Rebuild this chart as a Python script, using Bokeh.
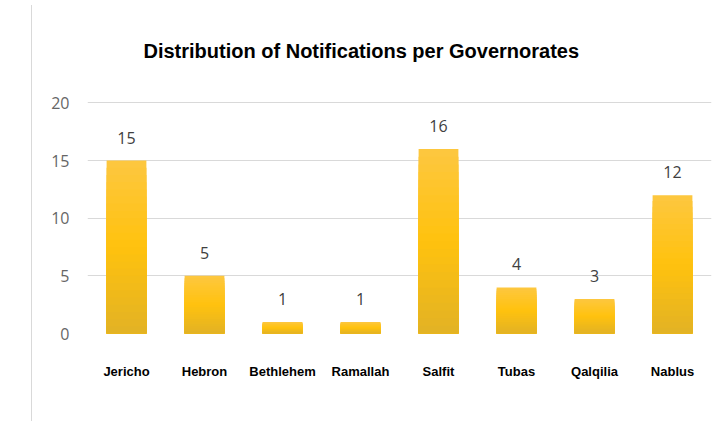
from bokeh.plotting import figure
from bokeh.models import ColumnDataSource, Div, FixedTicker
from bokeh.layouts import row
from bokeh.embed import file_html
from bokeh.resources import INLINE
from bokeh.core.properties import value

categories = ["Jericho", "Hebron", "Bethlehem", "Ramallah", "Salfit", "Tubas", "Qalqilia", "Nablus"]
counts = [15, 5, 1, 1, 16, 4, 3, 12]
y_ticks = [0, 5, 10, 15, 20]
title_text = "Distribution of Notifications per Governorates"

p = figure(x_range=categories, y_range=(0, 20.3), width=679, height=405,
           output_backend="svg", toolbar_location=None,
           min_border_left=50, min_border_right=5, min_border_top=99, min_border_bottom=72)
p.outline_line_color = None
p.background_fill_color = "white"

p.title.text = title_text
p.title.align = "left"
p.title.offset = 56
p.title.standoff = 75
p.title.text_font = "Liberation Sans"
p.title.text_font_style = "bold"
p.title.text_font_size = "20px"
p.title.text_color = "#000000"

# gradient bars: overlapping layers from top (light) to bottom (dark)
def lerp(c1, c2, t):
    return "#%02x%02x%02x" % tuple(int(round(a + (b - a) * t)) for a, b in zip(c1, c2))

bottom_c = (0xE2, 0xB2, 0x25)
mid_c = (0xFF, 0xC2, 0x0E)
top_c = (0xFD, 0xC7, 0x40)
N = 24
for k in range(N):
    i = N - 1 - k
    t = (i + 0.5) / N
    if t < 0.5:
        col = lerp(bottom_c, mid_c, t / 0.5)
    else:
        col = lerp(mid_c, top_c, (t - 0.5) / 0.5)
    src = ColumnDataSource(dict(x=categories, t=[v * (i + 1) / N for v in counts]))
    p.vbar(x="x", bottom=0, top="t", width=0.51, source=src,
           fill_color=col, line_color=None)

lab_src = ColumnDataSource(dict(x=categories, y=counts, txt=[str(v) for v in counts]))
p.text(x="x", y="y", text="txt", source=lab_src, text_align="center",
       text_baseline="bottom", y_offset=-17, text_font=value("Open Sans"),
       text_font_size="16px", text_color="#404040")

p.yaxis.ticker = FixedTicker(ticks=y_ticks)
p.yaxis.axis_line_color = None
p.yaxis.major_tick_line_color = None
p.yaxis.minor_tick_line_color = None
p.yaxis.major_label_text_font = "Open Sans"
p.yaxis.major_label_text_font_size = "16px"
p.yaxis.major_label_text_color = "#666666"
p.yaxis.major_label_standoff = 12

p.xaxis.axis_line_color = None
p.xaxis.major_tick_line_color = None
p.xaxis.major_label_text_font = "Liberation Sans"
p.xaxis.major_label_text_font_style = "bold"
p.xaxis.major_label_text_font_size = "13px"
p.xaxis.major_label_text_color = "#000000"
p.xaxis.major_label_standoff = 24

p.xgrid.grid_line_color = None
p.ygrid.grid_line_color = "#d9d9d9"
p.ygrid.grid_line_width = 1
p.x_range.range_padding = 0

spacer = Div(width=27, height=416, styles={"border-right": "1px solid #d9d9d9", "box-sizing": "border-box"})
layout = row(spacer, p, spacing=0)

open("out.html", "w").write(file_html(layout, INLINE))
